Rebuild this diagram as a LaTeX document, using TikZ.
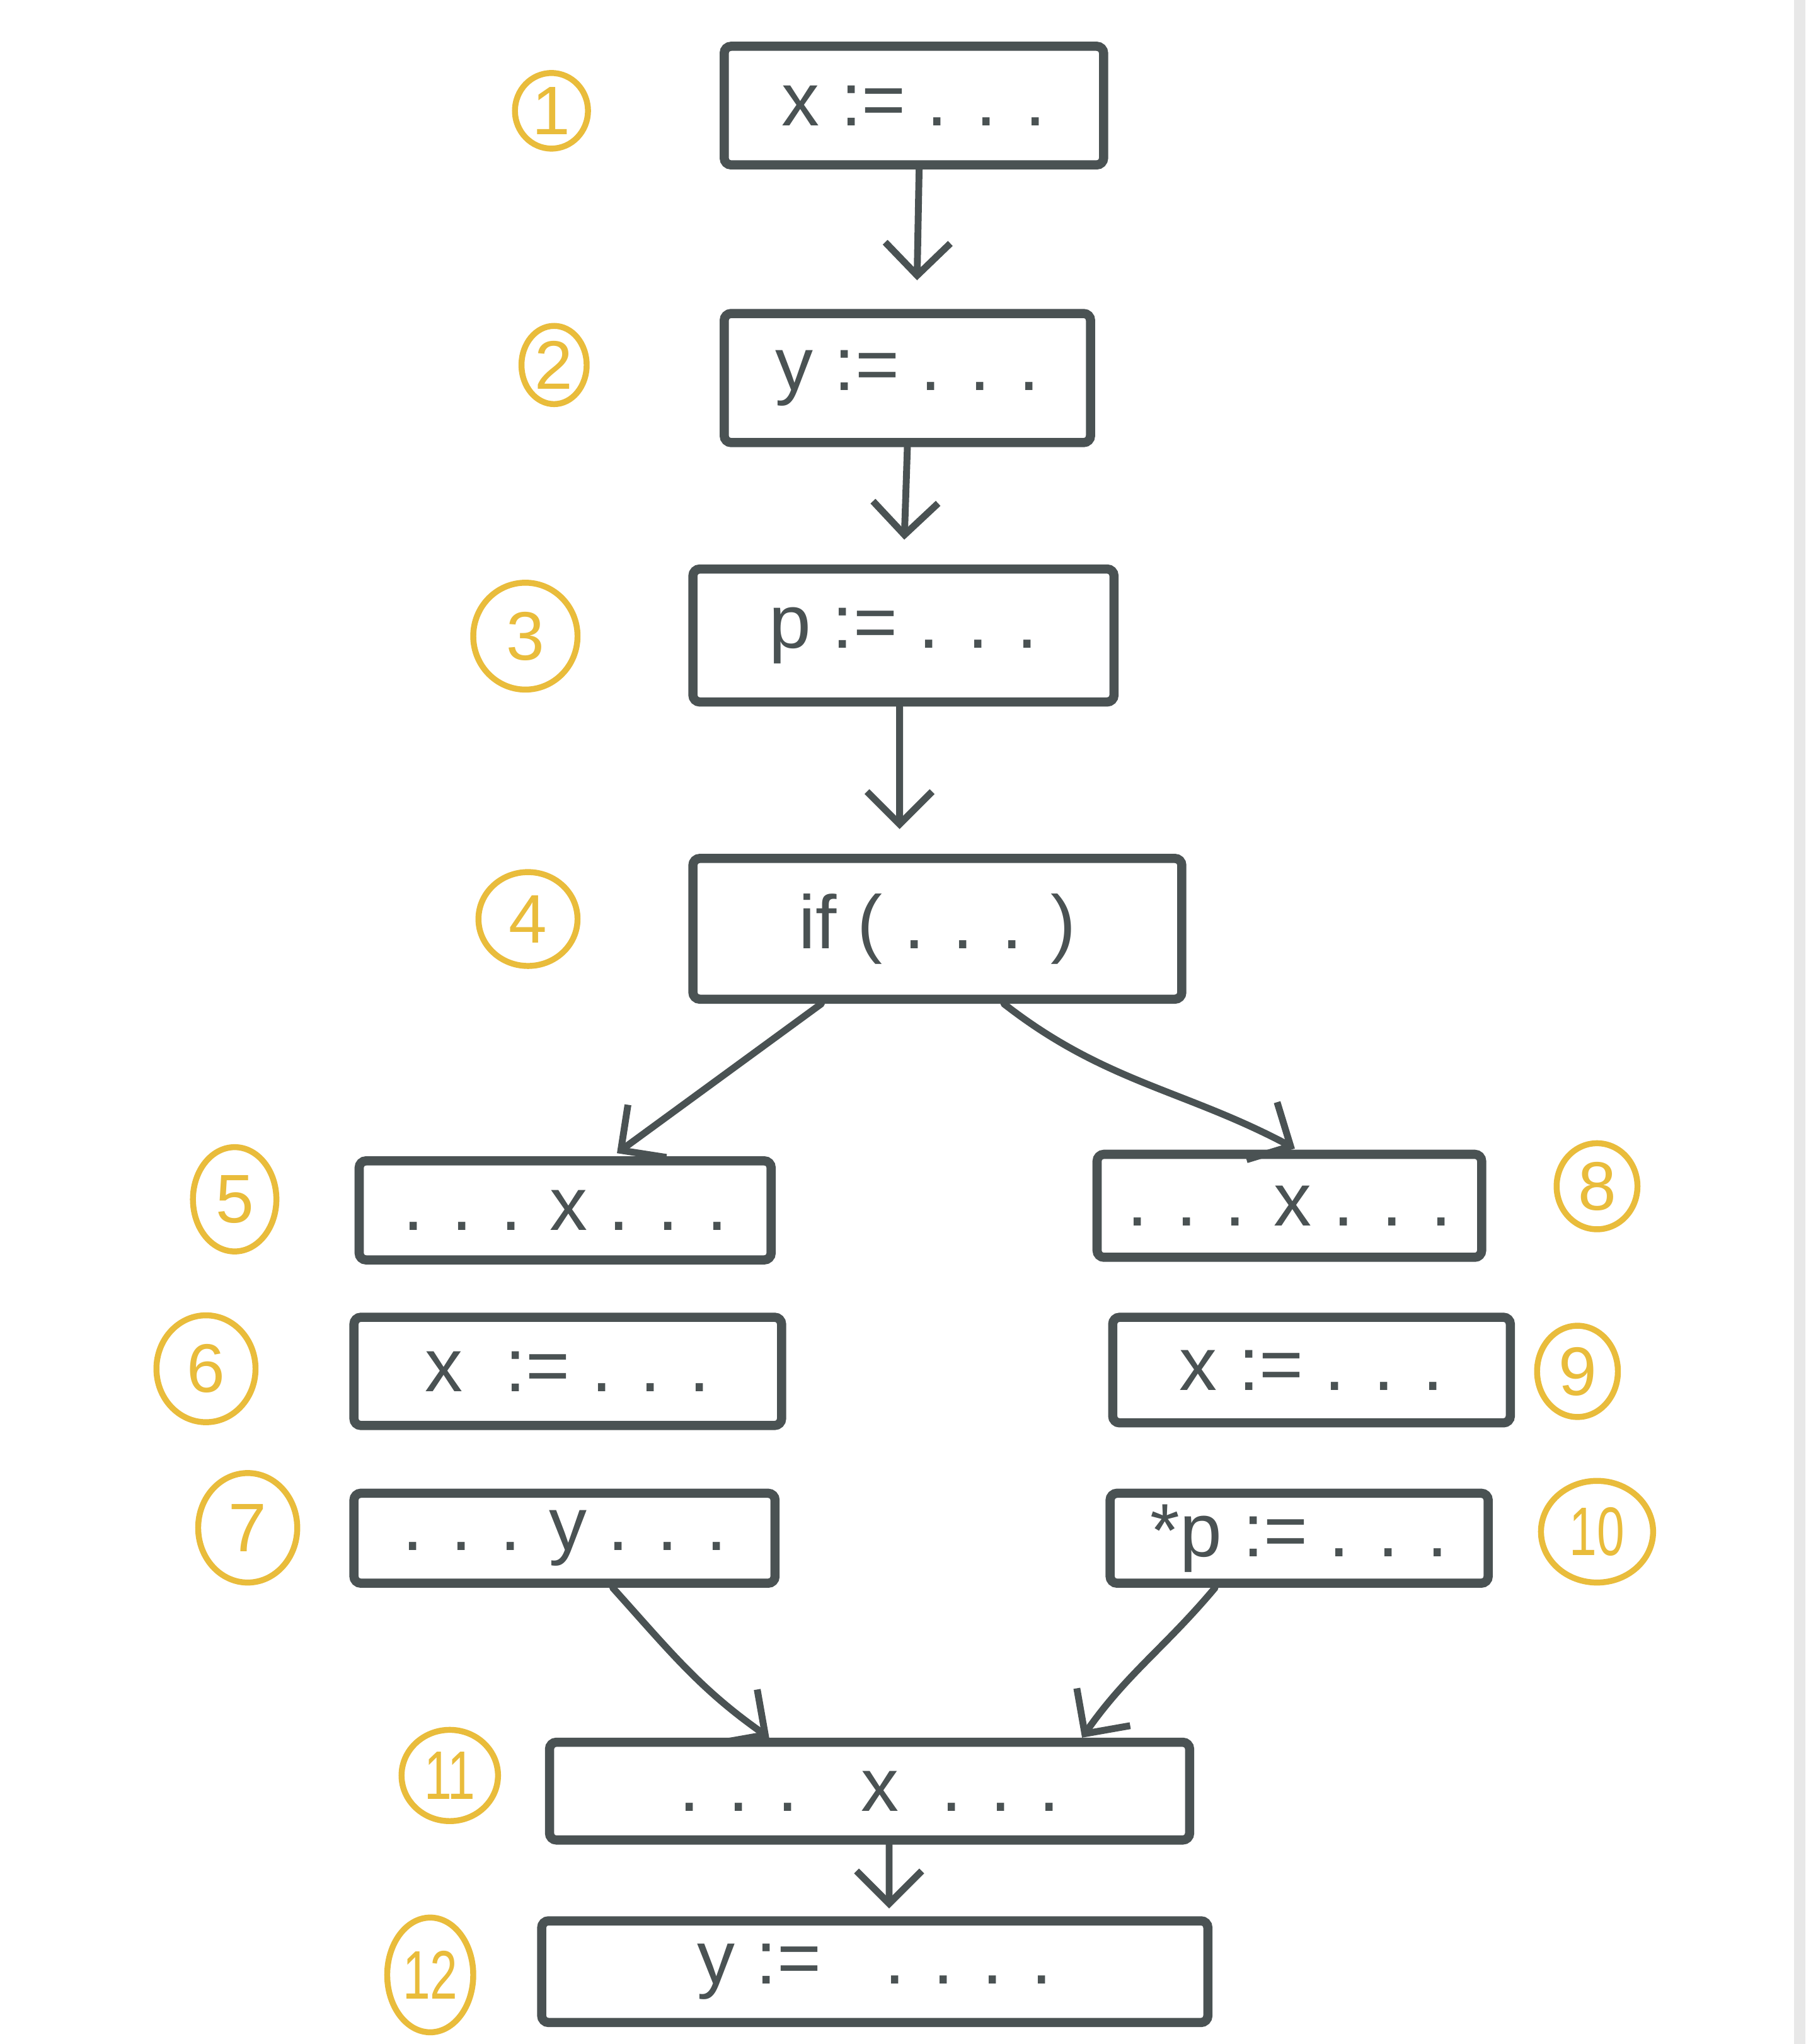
\documentclass[tikz,border=0pt]{standalone}
\usepackage{fontspec}
\usepackage{graphicx}
\setmainfont{Liberation Sans}
\usetikzlibrary{arrows.meta,shapes.geometric}
\definecolor{ink}{HTML}{4A5253}
\definecolor{gold}{HTML}{E9BC3B}
\definecolor{stripgray}{HTML}{E8E8E8}
\tikzset{
  box/.style={draw=ink, line width=4pt, rounded corners=3pt, inner sep=0pt,
    text=ink, font=\fontsize{33}{38}\selectfont},
  lbl/.style={ellipse, draw=gold, line width=2.6pt, inner sep=-3pt,
    text=gold, font=\fontsize{30}{34}\selectfont},
  arr/.style={draw=ink, line width=3pt, line cap=round,
    -{Straight Barb[length=0.5cm,width=1.0cm]}},
}
\newcommand\mybox[6]{\node[box, minimum width={(#4-#2-7)*0.02cm},
  minimum height={(#5-#3-7)*0.02cm}] (#1) at ({(#2+#4)/2},{(#3+#5)/2}) {#6};}
\newcommand\mylab[6]{\node[lbl, minimum width={#4*0.02cm},
  minimum height={#5*0.02cm}] (#1) at (#2,#3) {#6};}
\newcommand\nar[1]{\scalebox{0.72}[1]{#1}}
\begin{document}
\begin{tikzpicture}[x=0.02cm,y=-0.02cm]
\useasboundingbox (0,0) rectangle (1385,1568);
\fill[white] (0,0) rectangle (1385,1568);
\fill[stripgray] (1376,0) rectangle (1385,1568);

\mybox{b1}{552}{32}{850}{130}{x := . . .}
\mybox{b2}{552}{237}{840}{343}{y := . . .}
\mybox{b3}{528}{433}{858}{542}{p := . . .}
\mybox{b4}{528}{655}{910}{770}{if ( . . . )}
\mybox{b5}{272}{887}{595}{970}{. . . x . . .}
\mybox{b6}{268}{1007}{603}{1097}{x~~:= . . .}
\mybox{b7}{268}{1142}{598}{1218}{. . . y . . .}
\mybox{b8}{838}{882}{1140}{968}{. . . x . . .}
\mybox{b9}{850}{1007}{1162}{1095}{x := . . .}
\mybox{b10}{848}{1142}{1145}{1218}{*p := . . .}
\mybox{b11}{418}{1333}{916}{1415}{. . .~~~x~~. . .}
\mybox{b12}{412}{1470}{930}{1555}{y :=~~~. . . .}

\mylab{l1}{423}{85}{56}{58}{1}
\mylab{l2}{425}{280}{50}{60}{2}
\mylab{l3}{403}{488}{80}{82}{3}
\mylab{l4}{405}{705}{76}{72}{4}
\mylab{l5}{180}{920}{64}{80}{5}
\mylab{l6}{158}{1050}{76}{82}{6}
\mylab{l7}{190}{1172}{76}{84}{7}
\mylab{l8}{1225}{910}{62}{66}{8}
\mylab{l9}{1210}{1052}{62}{70}{9}
\mylab{l10}{1225}{1175}{86}{78}{\nar{10}}
\mylab{l11}{345}{1362}{74}{70}{\nar{11}}
\mylab{l12}{330}{1515}{66}{88}{\nar{12}}

\draw[arr, shorten >=0.44cm] ([xshift=0.08cm]b1.south) -- ([xshift=0.14cm]b2.north);
\draw[arr, shorten >=0.38cm] (b2.south) -- (b3.north);
\draw[arr, shorten >=0.38cm] ([xshift=-0.06cm]b3.south) -- ([xshift=-0.58cm]b4.north);
\draw[arr, shorten >=0.08cm] ([xshift=-1.78cm]b4.south) -- ([xshift=0.73cm]b5.north);
\draw[arr, shorten >=0.04cm] ([xshift=1.02cm]b4.south) to[out=-38,in=152] ([xshift=0.12cm]b8.north);
\draw[arr] ([xshift=0.74cm]b7.south) to[out=-48,in=145] ([xshift=-1.54cm]b11.north);
\draw[arr] ([xshift=-1.29cm]b10.south) to[out=-130,in=55] ([xshift=3.26cm]b11.north);
\draw[arr, shorten >=0.12cm] ([xshift=0.3cm]b11.south) -- ([xshift=0.22cm]b12.north);
\end{tikzpicture}
\end{document}
